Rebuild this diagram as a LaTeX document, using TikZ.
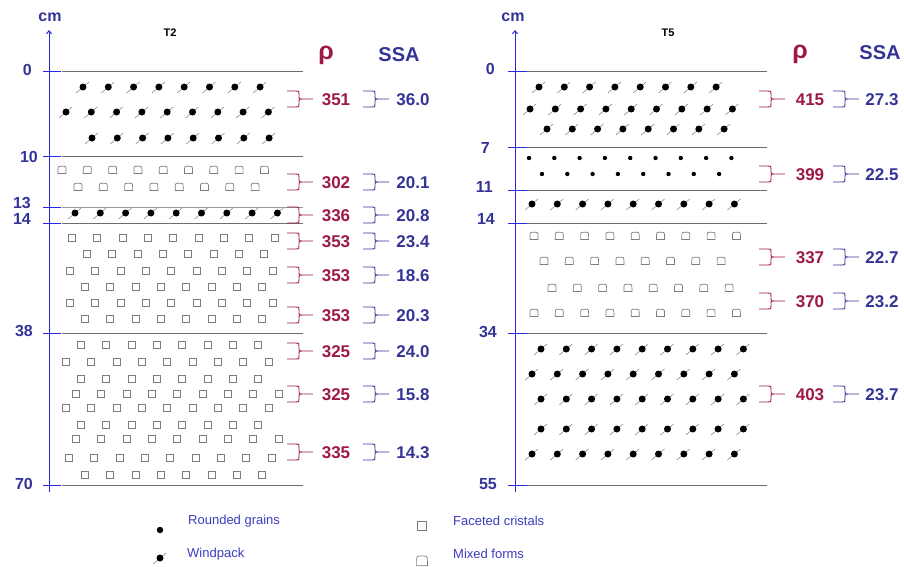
\documentclass[tikz,border=0pt]{standalone}
\usepackage{fontspec}
\setmainfont{Liberation Sans}
\usetikzlibrary{arrows.meta}
\definecolor{rhoc}{RGB}{158,24,72}
\definecolor{ssac}{RGB}{52,52,150}
\definecolor{axc}{RGB}{40,40,225}
\definecolor{legc}{RGB}{60,60,190}
\definecolor{layc}{RGB}{110,110,110}
\definecolor{symc}{RGB}{125,125,125}
\tikzset{
  wp/.pic={\draw[symc,line width=0.5pt] (-7,6) -- (6,-5); \fill[black] (0,0) circle[radius=3.5];},
  gr/.pic={\fill[black] (0,0) circle[radius=2.2];},
  fc/.pic={\draw[symc,line width=0.7pt] (-3.5,-3.5) rectangle (3.5,3.5);},
  mx/.pic={\draw[symc,line width=0.7pt] (-4,3.5) -- (-4,0) .. controls (-4,-3.8) and (-3.6,-3.8) .. (0,-3.8) .. controls (3.6,-3.8) and (4,-3.8) .. (4,0) -- (4,3.5) -- cycle;},
  layer/.style={layc,line width=0.8pt},
  tick/.style={axc,line width=1pt},
  axis/.style={axc,line width=1pt,-{Straight Barb[length=3pt,width=5pt]}},
  depth/.style={ssac,font=\fontsize{16}{16}\selectfont\bfseries,inner sep=0pt,anchor=east},
  rhoval/.style={rhoc,font=\fontsize{17}{17}\selectfont\bfseries,inner sep=0pt},
  ssaval/.style={ssac,font=\fontsize{17}{17}\selectfont\bfseries,inner sep=0pt},
  legtext/.style={legc,font=\fontsize{13}{13}\selectfont,inner sep=0pt,anchor=west},
  title/.style={black,font=\fontsize{11}{11}\selectfont\bfseries,inner sep=0pt},
  rhohead/.style={rhoc,font=\fontsize{25}{25}\selectfont\bfseries,inner sep=0pt},
  ssahead/.style={ssac,font=\fontsize{20}{20}\selectfont\bfseries,inner sep=0pt},
}
\newcommand\symrow[4]{\foreach \k in {1,...,#4}{\pic at ({#2+(\k-1)*25.3},#3) {#1};}}
\newcommand\brk[3]{\draw[#1,line width=0.9pt] (#2,{#3-8}) -- ({#2+9},{#3-8}) .. controls ({#2+12},{#3-8}) .. ({#2+12},{#3-5}) -- ({#2+12},{#3-2}) .. controls ({#2+12},#3) .. ({#2+15},#3) -- ({#2+26},#3)
  ({#2+15},#3) .. controls ({#2+12},#3) .. ({#2+12},{#3+2}) -- ({#2+12},{#3+5}) .. controls ({#2+12},{#3+8}) .. ({#2+9},{#3+8}) -- (#2,{#3+8});}
\begin{document}
\begin{tikzpicture}[x=1pt,y=-1pt]
\useasboundingbox[fill=white] (0,0) rectangle (904,566);

% ---------- T2 ----------
\coordinate (abot) at (49,492);
\coordinate (atop) at (49,30);
\draw[axis] (abot) -- (atop);
\node[ssac,font=\fontsize{16}{16}\selectfont\bfseries,inner sep=0pt] (cmA) at (50,17) {cm};
\node[title] (tA) at (170,33) {T2};
\foreach \y in {71,156,223,333,485} \draw[layer] (62,\y) -- (303,\y);
\draw[layer,layc!70] (62,207) -- (303,207);
\foreach \y in {71,156,207,223,333,485} \draw[tick] (43,\y) -- (61,\y);
\node[depth] (dA0) at (32,70) {0};
\node[depth] (dA1) at (38,157) {10};
\node[depth] (dA2) at (31,203) {13};
\node[depth] (dA3) at (31,219) {14};
\node[depth] (dA4) at (33,331) {38};
\node[depth] (dA5) at (33,484) {70};

\symrow{wp}{83}{87}{8}
\symrow{wp}{66}{112}{9}
\symrow{wp}{92}{138}{8}
\symrow{mx}{62}{170}{9}
\symrow{mx}{78}{187}{8}
\symrow{wp}{75}{213}{9}
\symrow{fc}{72}{238}{9}
\symrow{fc}{87}{254}{8}
\symrow{fc}{70}{271}{9}
\symrow{fc}{85}{287}{8}
\symrow{fc}{70}{303}{9}
\symrow{fc}{85}{319}{8}
\symrow{fc}{81}{345}{8}
\symrow{fc}{66}{362}{9}
\symrow{fc}{81}{379}{8}
\symrow{fc}{76}{394}{9}
\symrow{fc}{66}{408}{9}
\symrow{fc}{81}{425}{8}
\symrow{fc}{76}{439}{9}
\symrow{fc}{69}{458}{9}
\symrow{fc}{85}{475}{8}

\node[rhohead] (rhoA) at (326,55) {ρ};
\node[ssahead] (ssaA) at (399,55) {SSA};
\foreach \y/\r/\s [count=\i] in {100/351/36.0,183/302/20.1,216/336/20.8,242/353/23.4,276/353/18.6,316/353/20.3,352/325/24.0,395/325/15.8,453/335/14.3}{
  \brk{rhoc}{287}{\y-1}
  \brk{ssac}{363}{\y-1}
  \node[rhoval] (rA\i) at (336,\y) {\r};
  \node[ssaval] (sA\i) at (413,\y) {\s};
}

% ---------- T5 ----------
\coordinate (bbot) at (515,492);
\coordinate (btop) at (515,30);
\draw[axis] (bbot) -- (btop);
\node[ssac,font=\fontsize{16}{16}\selectfont\bfseries,inner sep=0pt] (cmB) at (513,17) {cm};
\node[title] (tB) at (668,33) {T5};
\foreach \y in {71,147,190,223,333,485} \draw[layer] (527,\y) -- (767,\y);
\foreach \y in {71,147,190,223,333,485} \draw[tick] (508,\y) -- (527,\y);
\node[depth] (dB0) at (495,69) {0};
\node[depth] (dB1) at (490,148) {7};
\node[depth] (dB2) at (493,187) {11};
\node[depth] (dB3) at (495,219) {14};
\node[depth] (dB4) at (497,332) {34};
\node[depth] (dB5) at (497,484) {55};

\symrow{wp}{539}{87}{8}
\symrow{wp}{530}{109}{9}
\symrow{wp}{547}{129}{8}
\symrow{gr}{529}{158}{9}
\symrow{gr}{542}{174}{8}
\symrow{wp}{532}{204}{9}
\symrow{mx}{534}{236}{9}
\symrow{mx}{544}{261}{8}
\symrow{mx}{552}{288}{8}
\symrow{mx}{534}{313}{9}
\symrow{wp}{541}{349}{9}
\symrow{wp}{532}{374}{9}
\symrow{wp}{541}{399}{9}
\symrow{wp}{541}{429}{9}
\symrow{wp}{532}{454}{9}

\node[rhohead] (rhoB) at (800,54) {ρ};
\node[ssahead] (ssaB) at (880,53) {SSA};
\foreach \y/\r/\s [count=\i] in {100/415/27.3,175/399/22.5,258/337/22.7,302/370/23.2,395/403/23.7}{
  \brk{rhoc}{759}{\y-1}
  \brk{ssac}{833}{\y-1}
  \node[rhoval] (rB\i) at (810,\y) {\r};
  \node[ssaval] (sB\i) at (882,\y) {\s};
}

% ---------- legend ----------
\fill[black] (160,530) circle[radius=3.2];
\pic at (160,558) {wp};
\pic[scale=1.35] at (422,526) {fc};
\pic[scale=1.35] at (422,561) {mx};
\node[legtext] (lg1) at (188,521) {Rounded grains};
\node[legtext] (lg2) at (187,554) {Windpack};
\node[legtext] (lg3) at (453,521) {Faceted cristals};
\node[legtext] (lg4) at (453,554) {Mixed forms};
\end{tikzpicture}
\end{document}
